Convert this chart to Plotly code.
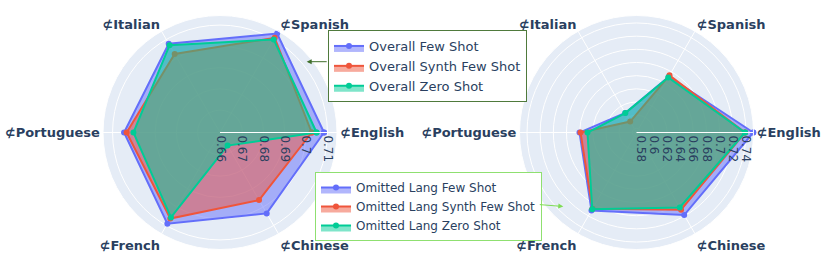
import plotly.graph_objects as go

categories = ["⊄English", "⊄Spanish", "⊄Italian", "⊄Portuguese", "⊄French", "⊄Chinese"]

overall_few_shot = [0.7084, 0.7132, 0.7077, 0.7046, 0.7090, 0.7034]
overall_synth_few_shot = [0.7026, 0.7109, 0.7021, 0.7034, 0.7062, 0.6962]
overall_zero_shot = [0.7049, 0.7100, 0.7069, 0.7002, 0.7056, 0.6666]

omitted_few_shot = [0.7510, 0.6716, 0.6078, 0.6602, 0.7104, 0.7185]
omitted_synth_few_shot = [0.7385, 0.6739, 0.5928, 0.6587, 0.7074, 0.7090]
omitted_zero_shot = [0.7385, 0.6700, 0.6076, 0.6481, 0.7081, 0.7051]

left_range = [0.6595, 0.7145]
right_range = [0.5736, 0.7514]

colors = ["#636efa", "#EF553B", "#00cc96"]

def closed(v):
    return list(v) + [v[0]]

fig = go.Figure()
left_series = [("Overall Few Shot", overall_few_shot),
               ("Overall Synth Few Shot", overall_synth_few_shot),
               ("Overall Zero Shot", overall_zero_shot)]
right_series = [("Omitted Lang Few Shot", omitted_few_shot),
                ("Omitted Lang Synth Few Shot", omitted_synth_few_shot),
                ("Omitted Lang Zero Shot", omitted_zero_shot)]

for (name, vals), c in zip(left_series, colors):
    fig.add_trace(go.Scatterpolar(r=closed(vals), theta=closed(categories), name=name,
                                  fill="toself", mode="lines+markers",
                                  line=dict(color=c), marker=dict(color=c, size=6),
                                  subplot="polar", legend="legend"))
for (name, vals), c in zip(right_series, colors):
    fig.add_trace(go.Scatterpolar(r=closed(vals), theta=closed(categories), name=name,
                                  fill="toself", mode="lines+markers",
                                  line=dict(color=c), marker=dict(color=c, size=6),
                                  subplot="polar2", legend="legend2"))

W, H = 831, 269
FONT = "DejaVu Sans"

def polar_cfg(xd, rng):
    return dict(
        domain=dict(x=xd, y=[1 - 249.5 / H, 1 - 15.5 / H]),
        bgcolor="#E5ECF6",
        radialaxis=dict(range=rng, tickangle=90, angle=0, gridcolor="white",
                        linecolor="white", showline=True, ticks="",
                        tickfont=dict(size=12, color="#2a3f5f", family=FONT)),
        angularaxis=dict(direction="counterclockwise", rotation=0,
                         categoryorder="array", categoryarray=categories,
                         gridcolor="white", linecolor="white", ticks="",
                         tickfont=dict(size=13, color="#2a3f5f", weight="bold", family=FONT)),
    )

fig.update_layout(
    width=W, height=H,
    margin=dict(l=0, r=0, t=0, b=0),
    paper_bgcolor="white", plot_bgcolor="white",
    font=dict(family=FONT, color="#2a3f5f"),
    polar=polar_cfg([103 / W, 337 / W], left_range),
    polar2=polar_cfg([519.5 / W, 753.5 / W], right_range),
    legend=dict(x=328 / W, y=1 - 30 / H, xanchor="left", yanchor="top",
                bordercolor="#4f7a3c", borderwidth=1, bgcolor="white",
                font=dict(size=13, color="#2a3f5f", family=FONT)),
    legend2=dict(x=315 / W, y=1 - 172 / H, xanchor="left", yanchor="top",
                 bordercolor="#8fe070", borderwidth=1, bgcolor="white",
                 font=dict(size=12, color="#2a3f5f", family=FONT)),
    showlegend=True,
    annotations=[
        dict(x=306.7 / W, y=1 - 61.7 / H, xref="paper", yref="paper", text="",
             showarrow=True, ax=21.5, ay=0, arrowhead=2, arrowsize=1,
             arrowwidth=1, arrowcolor="#3f6f2a"),
        dict(x=563.3 / W, y=1 - 206.5 / H, xref="paper", yref="paper", text="",
             showarrow=True, ax=-25, ay=-2, arrowhead=2, arrowsize=1,
             arrowwidth=1, arrowcolor="#7fdc55"),
    ],
)

fig.write_html("out.html", config={"displayModeBar": False},
               post_script="document.body.style.margin='0px';document.body.style.overflow='hidden';")
